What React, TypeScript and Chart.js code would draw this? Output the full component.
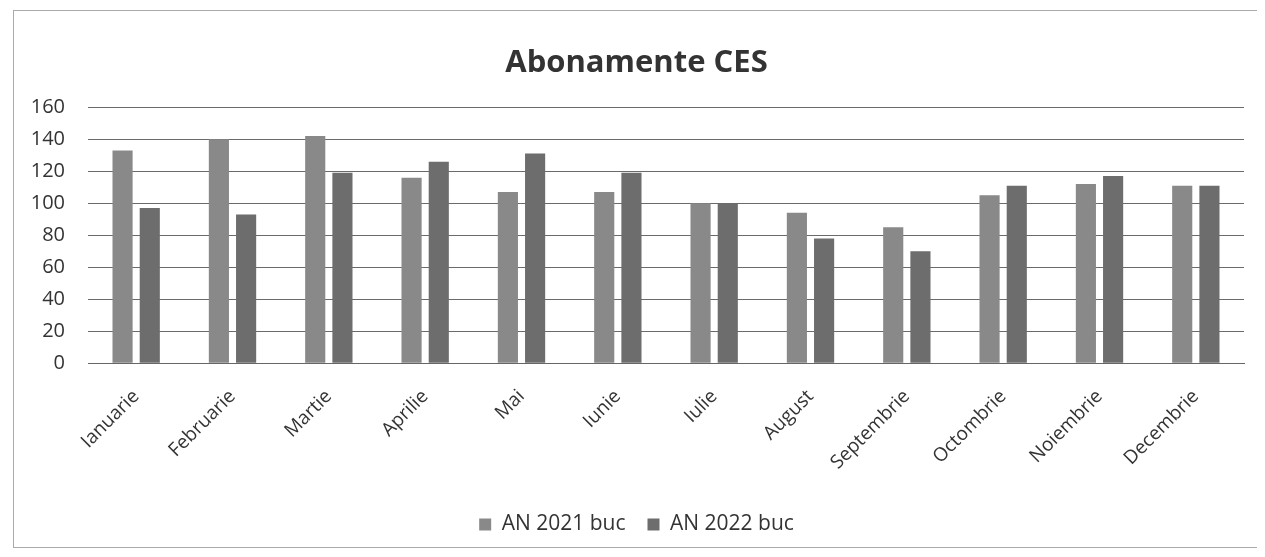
import React, { useEffect, useRef } from "react";
import { Chart, registerables } from "chart.js";

Chart.register(...registerables);

const categories = ["Ianuarie", "Februarie", "Martie", "Aprilie", "Mai", "Iunie", "Iulie", "August", "Septembrie", "Octombrie", "Noiembrie", "Decembrie"];
const values2021 = [133, 140, 142, 116, 107, 107, 100, 94, 85, 105, 112, 111];
const values2022 = [97, 93, 119, 126, 131, 119, 100, 78, 70, 111, 117, 111];
const seriesNames = ["AN 2021 buc", "AN 2022 buc"];
const titleText = "Abonamente CES";

export default function App() {
  const ref = useRef<HTMLCanvasElement>(null);
  useEffect(() => {
    if (!ref.current) return;
    const font = "'Open Sans', 'Liberation Sans', sans-serif";
    const chart = new Chart(ref.current, {
      type: "bar",
      data: {
        labels: categories,
        datasets: [
          { label: seriesNames[0], data: values2021, backgroundColor: "#898989", barPercentage: 0.74, categoryPercentage: 0.565 },
          { label: seriesNames[1], data: values2022, backgroundColor: "#6d6d6d", barPercentage: 0.74, categoryPercentage: 0.565 },
        ],
      },
      options: {
        animation: false,
        responsive: false,
        maintainAspectRatio: false,
        layout: { padding: { left: 15, right: 19, top: 10, bottom: 2 } },
        plugins: {
          title: { display: true, text: titleText, color: "#333", font: { family: font, size: 31, weight: "bold" }, padding: { top: 24, bottom: 25 } },
          legend: {
            position: "bottom",
            labels: { color: "#333", boxWidth: 12, boxHeight: 12, font: { family: font, size: 21 }, padding: 22 },
          },
          tooltip: { enabled: false },
        },
        scales: {
          x: {
            grid: { display: false },
            border: { color: "#666" },
            ticks: { color: "#333", font: { family: font, size: 19 }, minRotation: 45, maxRotation: 45, padding: 14 },
            afterFit: (scale: any) => { scale.height += 4; },
          },
          y: {
            min: 0,
            max: 160,
            ticks: { stepSize: 20, color: "#333", font: { family: font, size: 20 }, padding: 23 },
            grid: { color: "#6a6a6a", drawTicks: false },
            border: { display: false },
            afterFit: (scale: any) => { scale.width = 59; },
          },
        },
      },
    });
    return () => chart.destroy();
  }, []);
  return (
    <div style={{ width: 1251, height: 538, border: "1px solid #aaa", boxSizing: "border-box", marginTop: 2, marginLeft: 5, background: "#fff" }}>
      <canvas ref={ref} width={1249} height={536} style={{ display: "block" }} />
    </div>
  );
}
